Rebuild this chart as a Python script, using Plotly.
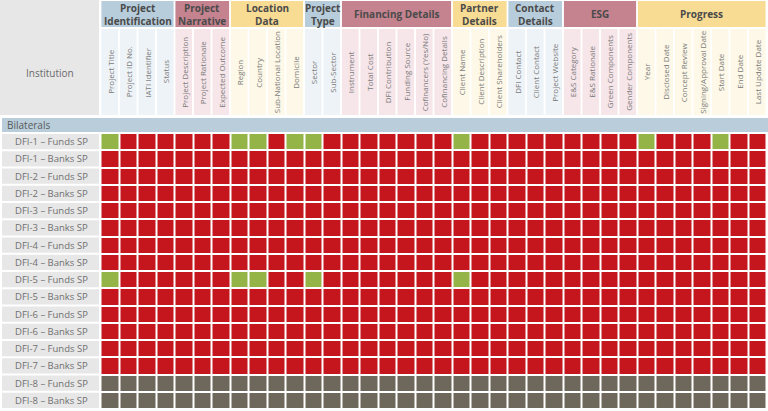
import plotly.graph_objects as go

# ---------------- data ----------------
groups = ["Project<br>Identification", "Project<br>Narrative", "Location<br>Data",
          "Project<br>Type", "Financing Details", "Partner<br>Details",
          "Contact<br>Details", "ESG", "Progress"]
group_sizes = [4, 3, 4, 2, 6, 3, 3, 4, 7]
group_tones = ["blue", "mauve", "yellow", "blue", "mauve", "yellow", "blue", "mauve", "yellow"]

columns = [
    "Project Title", "Project ID No.", "IATI Identifier", "Status",
    "Project Description", "Project Rationale", "Expected Outcome",
    "Region", "Country", "Sub-National Location", "Domicile",
    "Sector", "Sub-Sector",
    "Instrument", "Total Cost", "DFI Contribution", "Funding Source",
    "Cofinancers (Yes/No)", "Cofinancing Details",
    "Client Name", "Client Description", "Client Shareholders",
    "DFI Contact", "Client Contact", "Project Website",
    "E&S Category", "E&S Rationale", "Green Components", "Gender Components",
    "Year", "Disclosed Date", "Concept Review", "Signing/Approval Date",
    "Start Date", "End Date", "Last Update Date",
]

section = "Bilaterals"
corner_label = "Institution"

institutions = [
    "DFI-1 – Funds SP", "DFI-1 – Banks SP",
    "DFI-2 – Funds SP", "DFI-2 – Banks SP",
    "DFI-3 – Funds SP", "DFI-3 – Banks SP",
    "DFI-4 – Funds SP", "DFI-4 – Banks SP",
    "DFI-5 – Funds SP", "DFI-5 – Banks SP",
    "DFI-6 – Funds SP", "DFI-6 – Banks SP",
    "DFI-7 – Funds SP", "DFI-7 – Banks SP",
    "DFI-8 – Funds SP", "DFI-8 – Banks SP",
]

# G = disclosed, R = not disclosed, N = no data  (space separates column groups)
status_rows = [
    "GRRR RRR GGRG GR RRRRRR GRR RRR RRRR GRRRGRR",
    "RRRR RRR RRRR RR RRRRRR RRR RRR RRRR RRRRRRR",
    "RRRR RRR RRRR RR RRRRRR RRR RRR RRRR RRRRRRR",
    "RRRR RRR RRRR RR RRRRRR RRR RRR RRRR RRRRRRR",
    "RRRR RRR RRRR RR RRRRRR RRR RRR RRRR RRRRRRR",
    "RRRR RRR RRRR RR RRRRRR RRR RRR RRRR RRRRRRR",
    "RRRR RRR RRRR RR RRRRRR RRR RRR RRRR RRRRRRR",
    "RRRR RRR RRRR RR RRRRRR RRR RRR RRRR RRRRRRR",
    "GRRR RRR GGRR GR RRRRRR GRR RRR RRRR RRRRRRR",
    "RRRR RRR RRRR RR RRRRRR RRR RRR RRRR RRRRRRR",
    "RRRR RRR RRRR RR RRRRRR RRR RRR RRRR RRRRRRR",
    "RRRR RRR RRRR RR RRRRRR RRR RRR RRRR RRRRRRR",
    "RRRR RRR RRRR RR RRRRRR RRR RRR RRRR RRRRRRR",
    "RRRR RRR RRRR RR RRRRRR RRR RRR RRRR RRRRRRR",
    "NNNN NNN NNNN NN NNNNNN NNN NNN NNNN NNNNNNN",
    "NNNN NNN NNNN NN NNNNNN NNN NNN NNNN NNNNNNN",
]
status_codes = {"R": 0, "G": 1, "N": 2}

# ---------------- style ----------------
W, H = 768, 411
CELL_W, CELL_H = 18.5, 17.25
GRID_LEFT, GRID_TOP = 100.5, 133.0
FONT = "Open Sans"

RED, GREEN, GREY = "#c4161c", "#94b447", "#6e675b"
tone_dark = {"blue": "#b7cddb", "mauve": "#c4838f", "yellow": "#f8dc94"}
tone_light = {"blue": "#eef3f7", "mauve": "#f6e5e9", "yellow": "#fdf8e7"}
LABEL_BG = "#e7e7e7"
BAND_BG = "#b9ceda"


def px2x(p):
    return (p - GRID_LEFT) / CELL_W - 0.5


def py2y(p):
    return (p - GRID_TOP) / CELL_H - 0.5


z = [[status_codes[c] for c in row.replace(" ", "")] for row in status_rows]

fig = go.Figure(go.Heatmap(
    z=z,
    x=list(range(len(columns))),
    y=list(range(len(institutions))),
    zmin=0, zmax=2,
    colorscale=[[0, RED], [0.33, RED], [0.34, GREEN], [0.66, GREEN], [0.67, GREY], [1, GREY]],
    showscale=False,
    xgap=2, ygap=2,
    hoverinfo="skip",
))

shapes, annotations = [], []

# corner "Institution" cell
shapes.append(dict(type="rect", xref="x", yref="y", x0=px2x(0), x1=px2x(99),
                   y0=py2y(0), y1=py2y(115), fillcolor=LABEL_BG, line_width=0, layer="below"))
annotations.append(dict(x=px2x(50), y=py2y(73), text=corner_label, showarrow=False,
                        font=dict(family=FONT, size=10, color="#6a6a6a")))

# group headers and column label cells
start = 0
gx = 0.05
for name, size, tone in zip(groups, group_sizes, group_tones):
    x0, x1 = start - 0.5, start + size - 0.5
    shapes.append(dict(type="rect", xref="x", yref="y", x0=x0 + gx, x1=x1 - gx,
                       y0=py2y(1), y1=py2y(27), fillcolor=tone_dark[tone], line_width=0, layer="below"))
    lines = name.split("<br>")
    line_y = [14] if len(lines) == 1 else [8, 20.5]
    for txt, ly in zip(lines, line_y):
        annotations.append(dict(x=(x0 + x1) / 2, y=py2y(ly), text=txt, showarrow=False,
                                font=dict(family=FONT, size=10, color="#4a4a4a", weight=700)))
    for i in range(start, start + size):
        shapes.append(dict(type="rect", xref="x", yref="y", x0=i - 0.5 + gx, x1=i + 0.5 - gx,
                           y0=py2y(29), y1=py2y(115), fillcolor=tone_light[tone], line_width=0,
                           layer="below"))
        annotations.append(dict(x=i, y=py2y(72), text=columns[i], showarrow=False, textangle=-90,
                                font=dict(family=FONT, size=8, color="#7a7a7a")))
    start += size

# section band
shapes.append(dict(type="rect", xref="x", yref="y", x0=px2x(2), x1=px2x(768),
                   y0=py2y(118), y1=py2y(132), fillcolor=BAND_BG, line_width=0, layer="below"))
annotations.append(dict(x=px2x(5), y=py2y(125), text=section, showarrow=False, xanchor="left",
                        font=dict(family=FONT, size=10, color="#5a5a5a")))

# row label cells
gy = 0.06
for r, name in enumerate(institutions):
    shapes.append(dict(type="rect", xref="x", yref="y", x0=px2x(2), x1=px2x(99),
                       y0=r - 0.5 + gy, y1=r + 0.5 - gy, fillcolor=LABEL_BG, line_width=0,
                       layer="below"))
    annotations.append(dict(x=px2x(51), y=r, text=name, showarrow=False,
                            font=dict(family=FONT, size=9.5, color="#707070")))

fig.update_layout(
    width=W, height=H,
    margin=dict(l=0, r=0, t=0, b=0),
    paper_bgcolor="white", plot_bgcolor="white",
    xaxis=dict(range=[px2x(0), px2x(W)], visible=False, fixedrange=True),
    yaxis=dict(range=[py2y(H), py2y(0)], visible=False, fixedrange=True),
    shapes=shapes, annotations=annotations,
    showlegend=False,
)

fig.write_html(
    "out.html",
    config={"displayModeBar": False},
    post_script="document.body.style.margin='0';document.body.style.overflow='hidden';",
)
